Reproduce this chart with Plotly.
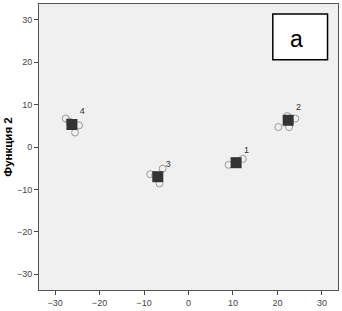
import plotly.graph_objects as go

# observed cases (Function 1, Function 2) per group
case_x = [-27.6, -25.5, -24.6, -26.8, 20.2, 22.2, 24.0, 22.6, 9.0, 12.2, 10.5, -8.6, -7.5, -6.5, -5.8]
case_y = [6.7, 3.4, 5.1, 6.0, 4.7, 7.3, 6.7, 4.7, -4.2, -2.8, -3.5, -6.4, -6.7, -8.6, -5.1]

# group centroids
cent_labels = ["1", "2", "3", "4"]
cent_x = [10.7, 22.4, -6.9, -26.2]
cent_y = [-3.7, 6.3, -7.0, 5.3]

x_ticks = [-30, -20, -10, 0, 10, 20, 30]
y_ticks = [-30, -20, -10, 0, 10, 20, 30]

fig = go.Figure()
fig.add_trace(go.Scatter(
    x=case_x, y=case_y, mode="markers",
    marker=dict(symbol="circle-open", size=7, color="#9a9a9a", line=dict(width=1)),
    showlegend=False, hoverinfo="skip"))
fig.add_trace(go.Scatter(
    x=cent_x, y=cent_y, mode="markers+text",
    marker=dict(symbol="square", size=11, color="#333333"),
    text=cent_labels, textposition="top right",
    textfont=dict(family="Liberation Sans, Arial", size=9, color="#333333"),
    showlegend=False, hoverinfo="skip"))

fig.add_shape(type="rect", xref="paper", yref="paper",
              x0=0.782, x1=0.965, y0=0.805, y1=0.965,
              fillcolor="white", line=dict(color="black", width=1.5))
fig.add_annotation(xref="paper", yref="paper", x=0.86, y=0.878,
                   xanchor="center", yanchor="middle",
                   text="a", showarrow=False,
                   font=dict(family="Liberation Sans, Arial", size=23, color="black"))

axis_common = dict(
    showgrid=False, zeroline=False, ticks="outside", ticklen=4, tickwidth=1,
    tickcolor="#444444", showline=True, linecolor="#555555", linewidth=1, mirror=True,
    tickfont=dict(family="Liberation Sans, Arial", size=9, color="#444444"))

fig.update_xaxes(range=[-33.6, 33.6], tickvals=x_ticks, **axis_common)
fig.update_yaxes(range=[-33.7, 33.7], tickvals=y_ticks,
                 title=dict(text="<b>Функция 2</b>", standoff=1,
                            font=dict(family="Liberation Sans, Arial", size=11.5, color="black")),
                 **axis_common)

fig.update_layout(
    width=342, height=311,
    margin=dict(l=39, r=3, t=3, b=18),
    paper_bgcolor="white", plot_bgcolor="#f0f0f0")

fig.write_html("out.html", config={"displayModeBar": False},
               post_script="document.body.style.margin='0';document.body.style.overflow='hidden';")
